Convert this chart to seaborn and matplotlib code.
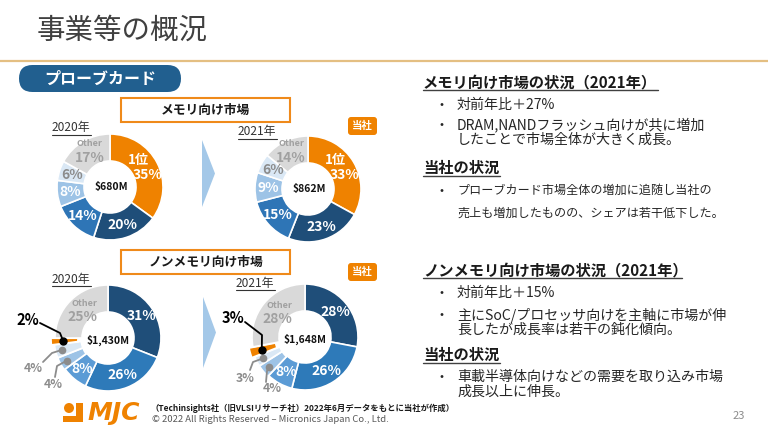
import numpy as np
import matplotlib
matplotlib.use("Agg")
import matplotlib.pyplot as plt
from matplotlib.patches import FancyBboxPatch, Rectangle, Circle
import seaborn as sns

sns.set_theme(style="white")
plt.rcParams['font.family'] = ['Noto Sans CJK JP', 'DejaVu Sans']

# --- Daten (Prozentanteile im Uhrzeigersinn ab 12 Uhr) ---
mem_2020 = [35, 20, 14, 8, 6, 17]
mem_2021 = [33, 23, 15, 9, 6, 14]
mem_totals = ["$680M", "$862M"]

nonmem_2020 = [31, 26, 8, 4, 4, 2, 25]
nonmem_2021 = [28, 26, 8, 4, 3, 3, 28]
nonmem_totals = ["$1,430M", "$1,648M"]

years = ["2020年", "2021年"]

ORANGE = "#EF8200"
mem_colors = [ORANGE, "#1F4E79", "#2E75B6", "#9DC3E6", "#DAE8F5", "#D9D9D9"]
nonmem_colors = ["#1F4E79", "#2E7AB9", "#5B9BD5", "#9DC3E6", "#DAE8F5", ORANGE, "#D9D9D9"]
GREY_TXT = "#A0A0A0"
DARK = "#262626"

R = 53
W = 27

fig = plt.figure(figsize=(7.68, 4.32), dpi=100)
ax = fig.add_axes([0, 0, 1, 1])


def donut(cx, cy, values, colors, explode=None):
    ax.pie(values, colors=colors, center=(cx, cy), radius=R, startangle=-90,
           counterclock=True, explode=explode, frame=True,
           wedgeprops=dict(width=W, edgecolor="white", linewidth=1.2))
    vals = np.array(values, dtype=float)
    cum = np.cumsum(vals) - vals / 2
    return np.deg2rad(-90 + cum / vals.sum() * 360)


def at(cx, cy, ang, r):
    return cx + r * np.cos(ang), cy + r * np.sin(ang)


def label(x, y, s, color="white", size=10, weight="bold", **kw):
    ax.text(x, y, s, color=color, fontsize=size, fontweight=weight,
            ha="center", va="center", **kw)


# ==============================================================
# --- Kopfzeile ---
# ==============================================================
ax.text(37, 31, "事業等の概況", fontsize=20.5, color="#404040", va="center", ha="left")
ax.plot([0, 768], [61, 61], color="#E4BF82", lw=1.6, solid_capstyle="butt")
ax.add_patch(FancyBboxPatch((19, 65), 162, 27, boxstyle="round,pad=0,rounding_size=13.5",
                            fc="#215F8F", ec="none"))
ax.text(100, 78.5, "プローブカード", fontsize=11.5, fontweight="bold", color="white",
        ha="center", va="center")

# Kategorie-Kästen
for y0, txt in [(98, "メモリ向け市場"), (250, "ノンメモリ向け市場")]:
    ax.add_patch(Rectangle((121, y0), 169, 24, fc="white", ec="#EF8A1A", lw=1.5))
    ax.text(205.5, y0 + 12, txt, fontsize=9.2, fontweight="bold", color="#1A1A1A",
            ha="center", va="center")

# "当社" badges
for y0 in [117, 263]:
    ax.add_patch(FancyBboxPatch((348, y0), 29, 18, boxstyle="round,pad=0,rounding_size=3",
                                fc=ORANGE, ec="none"))
    ax.text(362.5, y0 + 9, "当社", fontsize=7.5, fontweight="bold", color="white",
            ha="center", va="center")

# Jahreslabels (unterstrichen)
for (x, y), yr in zip([(52, 128), (238, 132), (52, 279), (236, 283)], years * 2):
    ax.text(x, y, yr, fontsize=8.6, color="#333333", ha="left", va="center")
    ax.plot([x, x + 39], [y + 6.5, y + 6.5], color="#333333", lw=0.8)

# Pfeile
for x0, y0, y1 in [(202, 140, 207), (203, 297, 368)]:
    ax.fill([x0, x0 + 13, x0], [y0, (y0 + y1) / 2, y1], color="#A4C8E8", lw=0)

# ==============================================================
# --- Memory Donuts ---
# ==============================================================
for (cx, cy), vals, tot in zip([(110, 187), (308, 189)], [mem_2020, mem_2021], mem_totals):
    ang = donut(cx, cy, vals, mem_colors)
    txt_colors = ["white", "white", "white", "white", "#8C8C8C", GREY_TXT]
    for i, (v, a) in enumerate(zip(vals, ang)):
        x, y = at(cx, cy, a, 40)
        if i == 0:
            label(x - 7, y - 9, "1位", size=9.5)
            label(x + 2, y + 6, f"{v}%")
        elif i == len(vals) - 1:
            label(x, y - 9.5, "Other", color=GREY_TXT, size=6.5)
            label(x, y + 5.5, f"{v}%", color=GREY_TXT)
        else:
            label(x, y, f"{v}%", color=txt_colors[i])
    label(cx + 1, cy, tot, color="#111111", size=7.5)

# ==============================================================
# --- Non-Memory Donuts ---
# ==============================================================
# Führungslinien (Knickpunkte) und Labelpositionen für kleine Segmente
leaders = [
    {5: ((28, 320), [(40, 323), (60, 333)]),
     4: ((33, 368), [(43, 362), (52, 353)]),
     3: ((53, 384), [(55, 377), (57, 366)])},
    {5: ((233, 318), [(245, 322), (262, 335)]),
     4: ((245, 378), [(250, 370), (253, 362)]),
     3: ((272, 389), [(266, 382), (267, 371)])},
]
EXPL = 4
for k, ((cx, cy), vals, tot) in enumerate(zip([(108, 338), (305, 337)],
                                               [nonmem_2020, nonmem_2021], nonmem_totals)):
    explode = [0, 0, 0, 1, 1, EXPL, 0]
    ang = donut(cx, cy, vals, nonmem_colors, explode=explode)
    for i, (v, a) in enumerate(zip(vals, ang)):
        if i in leaders[k]:
            (lx, ly), pts = leaders[k][i]
            if i == 5:
                ex, ey = at(cx, cy, a, 41 + EXPL)
                col, lw, ms = "black", 1.3, 5
                label(lx, ly, f"{v}%", color="black", size=10.5)
            else:
                ex, ey = at(cx, cy, a, 47)
                col, lw, ms = "#8C8C8C", 1.3, 4.5
                label(lx, ly, f"{v}%", color="#8C8C8C", size=8.8, weight="semibold")
            xs = [p[0] for p in pts] + [ex]
            ys = [p[1] for p in pts] + [ey]
            ax.plot(xs, ys, color=col, lw=lw, solid_capstyle="round", zorder=5)
            ax.plot([ex], [ey], "o", color=col, ms=ms, zorder=6)
        elif i == len(vals) - 1:
            x, y = at(cx, cy, a, 40)
            label(x + 5, y - 6, "Other", color=GREY_TXT, size=6.5)
            label(x + 3, y + 7, f"{v}%", color=GREY_TXT)
        else:
            x, y = at(cx, cy, a, 40)
            label(x, y, f"{v}%")
    label(cx, cy + 2, tot, color="#111111", size=7.5)

# ==============================================================
# --- Rechte Textspalte ---
# ==============================================================
def heading(y, s, x1):
    ax.text(423, y, s, fontsize=11, fontweight="bold", color="#1A1A1A", ha="left", va="center")
    ax.plot([423, x1], [y + 7.5, y + 7.5], color="#404040", lw=1.0)


def bullet(y, lines, size=10.1, dy=15):
    ax.text(442, y, "•", fontsize=8.5, color=DARK, ha="center", va="center")
    for j, ln in enumerate(lines):
        ax.text(457, y + j * dy, ln, fontsize=size, color=DARK, ha="left", va="center")


heading(82, "メモリ向け市場の状況（2021年）", 658)
bullet(105, ["対前年比＋27%"])
bullet(125, ["DRAM,NANDフラッシュ向けが共に増加", "したことで市場全体が大きく成長。"])
heading(168, "当社の状況", 500)
bullet(190, ["プローブカード市場全体の増加に追随し当社の", "売上も増加したものの、シェアは若干低下した。"],
       size=8.7, dy=23)

heading(270, "ノンメモリ向け市場の状況（2021年）", 682)
bullet(293, ["対前年比＋15%"])
bullet(315, ["主にSoC/プロセッサ向けを主軸に市場が伸", "長したが成長率は若干の鈍化傾向。"])
heading(355, "当社の状況", 500)
bullet(377, ["車載半導体向けなどの需要を取り込み市場", "成長以上に伸長。"])

# ==============================================================
# --- Fußzeile ---
# ==============================================================
ax.add_patch(Circle((69, 408), 5, fc=ORANGE, ec="none"))
ax.add_patch(Rectangle((76, 403), 7, 19, fc=ORANGE, ec="none"))
ax.add_patch(Rectangle((63, 416), 20, 6, fc=ORANGE, ec="none"))
ax.text(87, 413, "MJC", fontsize=18, fontweight="bold", fontstyle="italic", color=ORANGE,
        ha="left", va="center", family="DejaVu Sans")
ax.text(150, 408, "（Techinsights社（旧VLSIリサーチ社）2022年6月データをもとに当社が作成）",
        fontsize=6, fontweight="bold", color="#1A1A1A", ha="left", va="center")
ax.text(152, 419, "© 2022 All Rights Reserved – Micronics Japan Co., Ltd.",
        fontsize=6.8, color="#595959", ha="left", va="center")
ax.text(745, 416, "23", fontsize=8, color="#8C8C8C", ha="right", va="center")

ax.set_xlim(0, 768)
ax.set_ylim(432, 0)
ax.set_aspect("auto")
ax.axis("off")

fig.savefig("out.png", dpi=100)
